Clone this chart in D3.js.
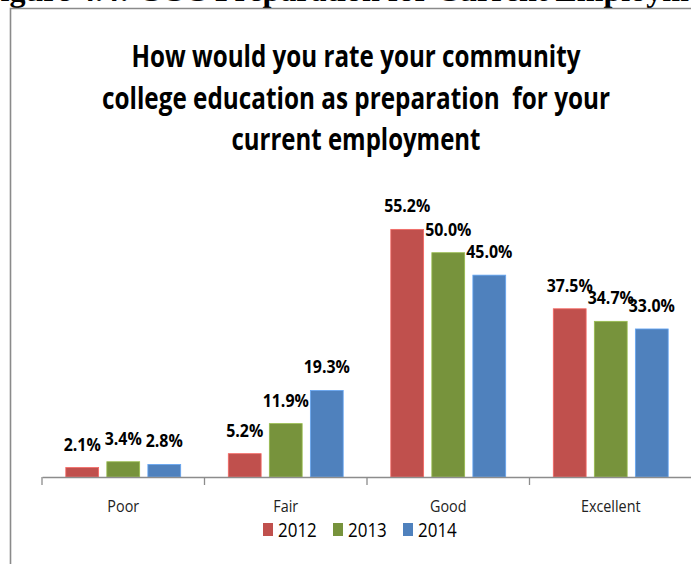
<!DOCTYPE html>
<html lang="en">
<head>
    <meta charset="utf-8">
    <title>Preparation for current employment</title>
    <script src="https://d3js.org/d3.v7.min.js"></script>
    <style>
        body { margin: 0; background: #fff; }
        svg { display: block; }
        .narrow { font-family: "Open Sans", "Noto Sans", sans-serif; }
    </style>
</head>
<body>
<script type="text/javascript">
    // data
    var categories = ["Poor", "Fair", "Good", "Excellent"];
    var years = ["2012", "2013", "2014"];
    var values2012 = [2.1, 5.2, 55.2, 37.5];
    var values2013 = [3.4, 11.9, 50.0, 34.7];
    var values2014 = [2.8, 19.3, 45.0, 33.0];
    var colors = ["#C0504D", "#77933C", "#4F81BD"];
    var titleLines = [
        "How would you rate your community",
        "college education as preparation  for your",
        "current employment"
    ];
    var titleWidths = [449, 508, 249];
    var pageHeading = "Figure 4.4: CCC Preparation for Current Employment";

    var series = [values2012, values2013, values2014];

    var width = 691, height = 564;

    // Calibri is narrower than Open Sans, squeeze text a bit
    function squeeze(sel, k) {
        sel.each(function() {
            var w = this.getComputedTextLength();
            d3.select(this)
                .attr("textLength", w * k)
                .attr("lengthAdjust", "spacingAndGlyphs");
        });
    }

    var svg = d3.select("body")
            .append("svg")
            .attr("width", width)
            .attr("height", height);

    // heading of the page, cut off at the top
    svg.append("text")
        .attr("x", -19)
        .attr("y", 1)
        .attr("font-family", "Liberation Serif, 'Times New Roman', serif")
        .attr("font-weight", "bold")
        .attr("font-size", "32px")
        .attr("fill", "#000")
        .text(pageHeading);

    // frame of the chart
    svg.append("path")
        .attr("d", "M10.5," + height + "V8.5H" + width)
        .attr("fill", "none")
        .attr("stroke", "#8a8a8a")
        .attr("stroke-width", 1.6);

    // title
    svg.append("g")
        .selectAll("text")
        .data(titleLines)
        .enter()
        .append("text")
        .attr("class", "narrow")
        .attr("x", 356)
        .attr("y", function(d, i) { return 67 + i * 41.5; })
        .attr("text-anchor", "middle")
        .attr("font-weight", "bold")
        .attr("font-size", "31px")
        .attr("textLength", function(d, i) { return titleWidths[i]; })
        .attr("lengthAdjust", "spacingAndGlyphs")
        .style("white-space", "pre")
        .attr("fill", "#000")
        .text(function(d) { return d; });

    // scales
    var x0 = d3.scaleBand()
        .domain(categories)
        .range([42, 692])
        .padding(0);

    var x1 = d3.scaleBand()
        .domain(years)
        .range([0, x0.bandwidth()])
        .paddingInner(0.2)
        .paddingOuter(0.58);

    var y = d3.scaleLinear()
        .domain([0, 60])
        .range([477, 477 - 60 * 4.486]);

    var color = d3.scaleOrdinal().domain(years).range(colors);

    // bars
    var groups = svg.append("g")
        .selectAll("g")
        .data(categories)
        .enter()
        .append("g")
        .attr("transform", function(d) { return "translate(" + x0(d) + ",0)"; });

    var cells = groups.selectAll("g")
        .data(function(c, ci) {
            return years.map(function(yr, si) { return { year: yr, value: series[si][ci] }; });
        })
        .enter()
        .append("g");

    cells.append("rect")
        .attr("x", function(d) { return x1(d.year); })
        .attr("y", function(d) { return y(d.value); })
        .attr("width", x1.bandwidth())
        .attr("height", function(d) { return y(0) - y(d.value); })
        .attr("fill", function(d) { return color(d.year); })
        .attr("stroke", function(d) { return d3.color(color(d.year)).brighter(0.7); })
        .attr("stroke-width", 0.8);

    // value labels
    cells.append("text")
        .attr("class", "narrow")
        .attr("x", function(d) { return x1(d.year) + x1.bandwidth() / 2; })
        .attr("y", function(d) { return y(d.value) - 17; })
        .attr("text-anchor", "middle")
        .attr("font-weight", "bold")
        .attr("font-size", "18.5px")
        .attr("fill", "#000")
        .text(function(d) { return d.value.toFixed(1) + "%"; })
        .call(squeeze, 0.86);

    // x axis
    var xAxis = d3.axisBottom(x0)
        .tickSize(0)
        .tickPadding(23);

    var gx = svg.append("g")
        .attr("transform", "translate(0," + y(0) + ")")
        .call(xAxis);

    gx.select(".domain")
        .attr("stroke", "#8c8c8c")
        .attr("stroke-width", 1.3);

    gx.selectAll(".tick text")
        .attr("class", "narrow")
        .attr("font-size", "16.5px")
        .attr("fill", "#222")
        .call(squeeze, 0.87);

    // ticks sit between categories, like Excel
    gx.selectAll(".sep")
        .data(categories.concat([null]))
        .enter()
        .append("line")
        .attr("class", "sep")
        .attr("x1", function(d) { return d === null ? x0.range()[1] : x0(d); })
        .attr("x2", function(d) { return d === null ? x0.range()[1] : x0(d); })
        .attr("y1", 0)
        .attr("y2", 8)
        .attr("stroke", "#8c8c8c")
        .attr("stroke-width", 1.3);

    // legend
    var legend = svg.append("g")
        .selectAll("g")
        .data(years)
        .enter()
        .append("g")
        .attr("transform", function(d, i) { return "translate(" + (263 + i * 70) + ",523)"; });

    legend.append("rect")
        .attr("width", 10)
        .attr("height", 13)
        .attr("fill", function(d) { return color(d); });

    legend.append("text")
        .attr("class", "narrow")
        .attr("x", 15)
        .attr("y", 14)
        .attr("font-size", "19.5px")
        .attr("fill", "#000")
        .text(function(d) { return d; })
        .call(squeeze, 0.87);
</script>
</body>
</html>
